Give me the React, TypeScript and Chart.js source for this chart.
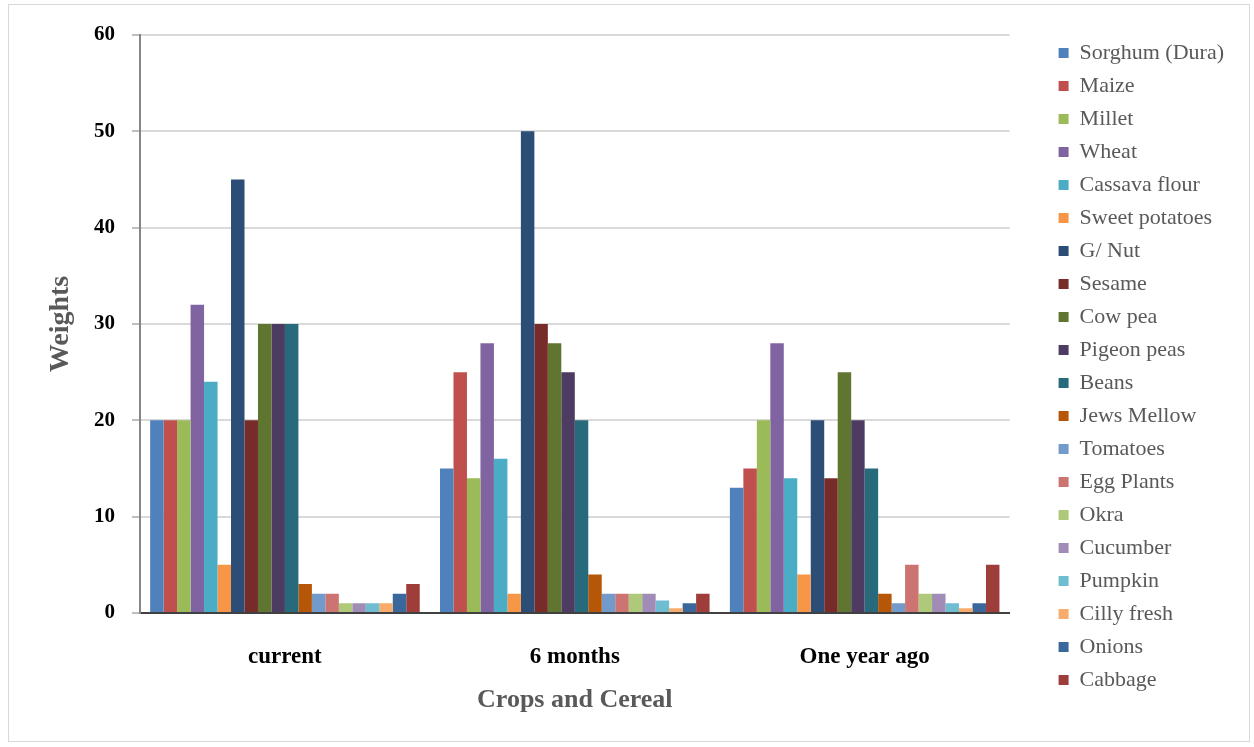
import { useEffect, useRef } from "react";
import { Chart, registerables } from "chart.js";

Chart.register(...registerables);

const periods = ["current", "6 months", "One year ago"];

const crops = [
  "Sorghum (Dura)",
  "Maize",
  "Millet",
  "Wheat",
  "Cassava flour",
  "Sweet potatoes",
  "G/ Nut",
  "Sesame",
  "Cow pea",
  "Pigeon peas",
  "Beans",
  "Jews Mellow",
  "Tomatoes",
  "Egg Plants",
  "Okra",
  "Cucumber",
  "Pumpkin",
  "Cilly fresh",
  "Onions",
  "Cabbage",
];

// weights per crop, in the same order as `crops`
const currentWeights = [20, 20, 20, 32, 24, 5, 45, 20, 30, 30, 30, 3, 2, 2, 1, 1, 1, 1, 2, 3];
const sixMonthWeights = [15, 25, 14, 28, 16, 2, 50, 30, 28, 25, 20, 4, 2, 2, 2, 2, 1.3, 0.5, 1, 2];
const oneYearWeights = [13, 15, 20, 28, 14, 4, 20, 14, 25, 20, 15, 2, 1, 5, 2, 2, 1, 0.5, 1, 5];

const cropColors = [
  "#4F81BD", "#C0504D", "#9BBB59", "#8064A2", "#4BACC6",
  "#F79646", "#2C4D75", "#772C2A", "#5F7530", "#4D3B62",
  "#276A7C", "#B65708", "#729ACA", "#CD7371", "#AFC97A",
  "#A18CB8", "#6FBDD1", "#F9AB6B", "#3A679C", "#9F3D3A",
];

const yTicks = { min: 0, max: 60, step: 10 };

const SERIF = '"Liberation Serif", "Times New Roman", serif';

export default function App() {
  const canvasRef = useRef<HTMLCanvasElement | null>(null);

  useEffect(() => {
    const canvas = canvasRef.current;
    if (!canvas) return;

    const datasets = crops.map((name, i) => ({
      label: name,
      data: [currentWeights[i], sixMonthWeights[i], oneYearWeights[i]],
      backgroundColor: cropColors[i],
      borderWidth: 0,
      categoryPercentage: 0.93,
      barPercentage: 1.0,
    }));

    const chart = new Chart(canvas, {
      type: "bar",
      data: { labels: periods, datasets },
      options: {
        animation: false,
        responsive: false,
        maintainAspectRatio: false,
        layout: { padding: { left: 0, top: 0, right: 15, bottom: 13 } },
        plugins: {
          tooltip: { enabled: false },
          legend: {
            position: "right",
            align: "center",
            labels: {
              boxWidth: 10,
              boxHeight: 10,
              padding: 11,
              color: "#595959",
              font: { family: SERIF, size: 22 },
            },
          },
        },
        scales: {
          x: {
            position: "bottom",
            grid: { display: false },
            border: { display: true, color: "#404040", width: 2 },
            ticks: {
              color: "#000000",
              padding: 22,
              font: { family: SERIF, size: 23, weight: "bold" },
            },
            title: {
              display: true,
              text: "Crops and Cereal",
              color: "#595959",
              padding: { top: 0, bottom: 12 },
              font: { family: SERIF, size: 26, weight: "bold" },
            },
            afterFit: (scale: any) => {
              scale.height = 115;
            },
          },
          topGap: {
            type: "category",
            position: "top",
            display: true,
            grid: { display: false },
            border: { display: false },
            ticks: { display: false },
            afterFit: (scale: any) => {
              scale.height = 30;
            },
          },
          y: {
            min: yTicks.min,
            max: yTicks.max,
            grid: { color: "#d9d9d9", lineWidth: 2, tickLength: 8, tickColor: "#bfbfbf" },
            border: { display: true, color: "#868686", width: 2 },
            ticks: {
              stepSize: yTicks.step,
              color: "#000000",
              padding: 17,
              font: { family: SERIF, size: 21, weight: "bold" },
            },
            title: {
              display: true,
              text: "Weights",
              color: "#595959",
              padding: { top: 35, bottom: 0 },
              font: { family: SERIF, size: 28, weight: "bold" },
            },
            afterFit: (scale: any) => {
              scale.width = 131;
            },
          },
          rightGap: {
            type: "linear",
            position: "right",
            display: true,
            grid: { display: false },
            border: { display: false },
            ticks: { display: false },
            afterFit: (scale: any) => {
              scale.width = 38;
            },
          },
        },
      },
    });

    return () => chart.destroy();
  }, []);

  return (
    <div
      style={{
        position: "absolute",
        left: 8,
        top: 4,
        width: 1242,
        height: 738,
        boxSizing: "border-box",
        border: "1px solid #d9d9d9",
        background: "#ffffff",
      }}
    >
      <canvas ref={canvasRef} width={1240} height={736} style={{ display: "block" }} />
    </div>
  );
}
